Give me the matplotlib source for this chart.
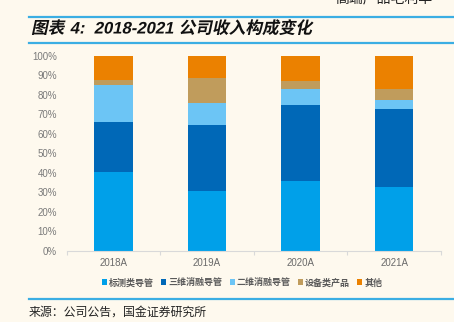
import matplotlib
matplotlib.use("Agg")
import matplotlib.pyplot as plt
from matplotlib.patches import Patch, PathPatch
from matplotlib.textpath import TextPath
from matplotlib.font_manager import FontProperties
from matplotlib.transforms import Affine2D
import numpy as np

plt.rcParams['font.family'] = ['Liberation Sans', 'Noto Sans CJK SC']

categories = ['2018A', '2019A', '2020A', '2021A']
series_names = ['标测类导管', '三维消融导管', '二维消融导管', '设备类产品', '其他']
s_biaoce = [40.3, 30.8, 35.8, 32.7]
s_sanwei = [26.0, 33.9, 39.0, 40.2]
s_erwei = [18.8, 11.0, 8.1, 4.3]
s_shebei = [2.7, 13.2, 4.4, 5.9]
s_qita = [12.2, 11.1, 12.7, 16.9]
yticks = [0, 10, 20, 30, 40, 50, 60, 70, 80, 90, 100]
ytick_labels = ['0%', '10%', '20%', '30%', '40%', '50%', '60%', '70%', '80%', '90%', '100%']
title_parts = ['图表', ' 4:  2018-2021 ', '公司收入构成变化']

colors = ['#00A0E9', '#0068B7', '#6CC5F5', '#C09C5C', '#EB8100']
bg = '#FEF9EE'
line_blue = '#3BAEE3'
DPI = 100

fig = plt.figure(figsize=(4.54, 3.22), dpi=DPI, facecolor=bg)
ax = fig.add_axes([0.147, 0.2215, 0.824, 0.6045], facecolor=bg)

x = np.arange(len(categories))
bottom = np.zeros(len(categories))
for vals, c, name in zip([s_biaoce, s_sanwei, s_erwei, s_shebei, s_qita], colors, series_names):
    ax.bar(x, vals, width=0.41, bottom=bottom, color=c, label=name, linewidth=0)
    bottom += np.array(vals)

ax.set_xlim(-0.5, len(categories) - 0.5)
ax.set_ylim(0, 100)
ax.set_yticks(yticks)
ax.set_yticklabels(ytick_labels)
ax.set_xticks(x)
ax.set_xticklabels(categories)
ax.set_xticks(np.arange(len(categories) + 1) - 0.5, minor=True)
ax.tick_params(axis='y', length=0, pad=7, labelsize=7, labelcolor='#7A7A7A')
ax.tick_params(axis='x', which='major', length=0, pad=5, labelsize=7, labelcolor='#6A6A6A')
ax.tick_params(axis='x', which='minor', length=3, color='#D9D9D9', width=0.8)
for s in ['top', 'right', 'left']:
    ax.spines[s].set_visible(False)
ax.spines['bottom'].set_color('#D9D9D9')
ax.spines['bottom'].set_linewidth(0.8)

handles = [Patch(facecolor=c, edgecolor='none') for c in colors]
leg = fig.legend(handles, series_names, loc='center', bbox_to_anchor=(0.533, 0.122),
                 ncol=5, frameon=False, handlelength=0.55, handleheight=0.55,
                 handletextpad=0.2, columnspacing=0.85,
                 prop={'family': ['Noto Sans CJK SC'], 'size': 6.5, 'weight': 'bold'})
for t in leg.get_texts():
    t.set_color('#5A5A5A')

# header lines
fig.add_artist(plt.Line2D([29/454, 1], [1 - 17/322] * 2, color=line_blue, lw=1.6))
fig.add_artist(plt.Line2D([29/454, 1], [1 - 43/322] * 2, color=line_blue, lw=1.6))
fig.add_artist(plt.Line2D([29/454, 1], [1 - 299/322] * 2, color=line_blue, lw=1.6))

# italic-skewed title built from text paths
fp_cjk = FontProperties(family='Noto Sans CJK SC', weight='bold')
fp_lat = FontProperties(family='Liberation Sans', weight='bold')
size_pt = 12
scale = DPI / 72.0
xpos = 31.0
ybase = 322 - 33.5
sp = 0.28 * size_pt
for part, fp in zip(title_parts, [fp_cjk, fp_lat, fp_cjk]):
    core = part.strip(' ')
    n_lead = len(part) - len(part.lstrip(' '))
    n_trail = len(part) - len(part.rstrip(' '))
    tp = TextPath((0, 0), core, size=size_pt, prop=fp)
    x0 = xpos + n_lead * sp * scale
    tr = Affine2D().skew_deg(12, 0).scale(scale).translate(x0, ybase)
    fig.add_artist(PathPatch(tp, transform=tr, facecolor='#111111', edgecolor='none'))
    xpos = x0 + (tp.get_extents().x1 + n_trail * sp) * scale + 1.0

fig.text(335/454, 1 + 2/322, '高端产品毛利率', fontsize=10, va='center', ha='left',
         family=['Noto Sans CJK SC'], color='#222222')
fig.text(29/454, 1 - 312/322, '来源：公司公告，国金证券研究所', fontsize=8.6,
         va='center', ha='left', family=['Noto Sans CJK SC'], color='#222222')

fig.savefig('out.png', dpi=DPI, facecolor=bg)
